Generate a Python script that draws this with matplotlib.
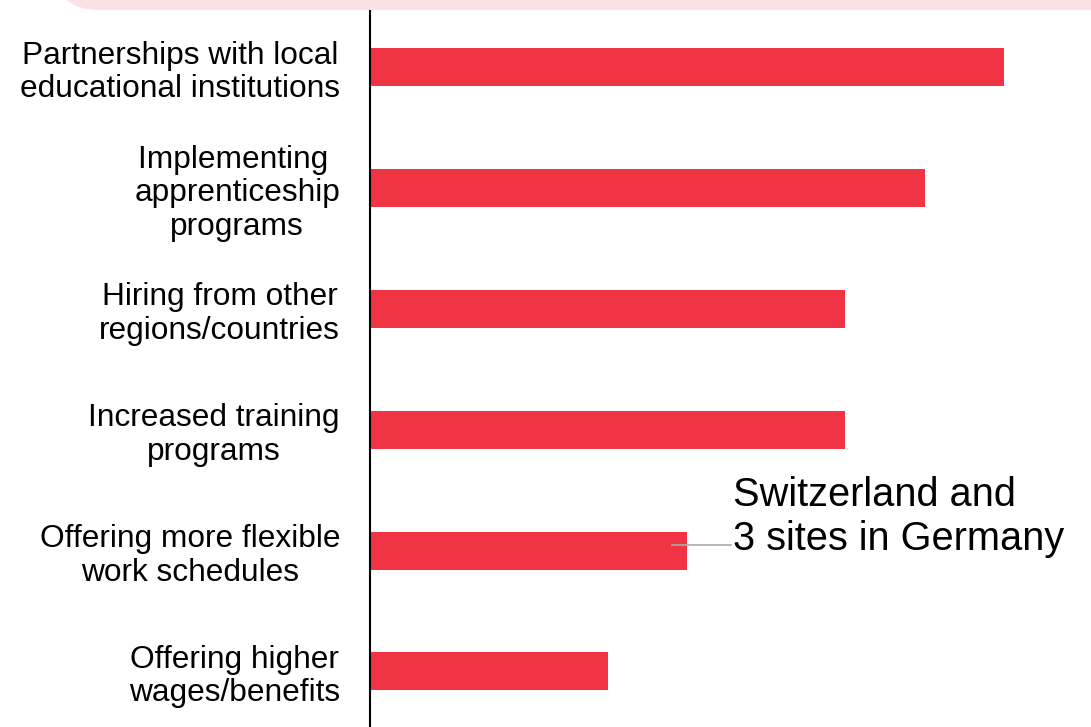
import matplotlib.pyplot as plt
from matplotlib.patches import FancyBboxPatch

plt.rcParams['font.family'] = ['Liberation Sans', 'DejaVu Sans']

# categories top to bottom and their values
categories = ['Partnerships with local\neducational institutions',
              'Implementing \napprenticeship\nprograms',
              'Hiring from other\nregions/countries',
              'Increased training\nprograms',
              'Offering more flexible\nwork schedules',
              'Offering higher\nwages/benefits']
values = [8, 7, 6, 6, 4, 3]

note_text = 'Switzerland and\n3 sites in Germany'
note_bar = 4  # the bar the callout points at

fig = plt.figure(figsize=(10.91, 7.27), dpi=100)

# pink header band peeking in at the top
band = FancyBboxPatch((55 / 1091, 1 - 10 / 727), 1.2, 0.2,
                      boxstyle='round,pad=0,rounding_size=0.04',
                      transform=fig.transFigure, facecolor='#fde0e4',
                      edgecolor='none', mutation_aspect=1.5)
fig.patches.append(band)

ax = fig.add_axes([370 / 1091, 0, 1 - 370 / 1091, 719 / 727])

ypos = list(range(len(categories)))
ax.barh(ypos, values, height=0.315, color='#f03443', zorder=2)

ax.set_xlim(0, 9.1)
ax.set_ylim(5.46, -0.49)
ax.set_yticks(ypos)
ax.set_yticklabels(categories, fontsize=22.8, linespacing=1.15)
for lbl in ax.get_yticklabels():
    lbl.set_multialignment('center')
ax.tick_params(axis='y', length=0, pad=21.6)
ax.set_xticks([])

for side in ['top', 'right', 'bottom']:
    ax.spines[side].set_visible(False)
ax.spines['left'].set_linewidth(1.5)
ax.spines['left'].set_color('black')
ax.patch.set_alpha(0)

# callout: thin grey connector from inside the bar to the note
line_y = note_bar - 0.05
ax.plot([values[note_bar] - 0.19, 4.56], [line_y, line_y],
        color='#aaaaaa', lw=1.2, zorder=3, clip_on=False)
ax.text(4.58, note_bar + 0.065, note_text, fontsize=28.6,
        ha='left', va='bottom', linespacing=1.2)

fig.savefig('out.png', dpi=100)
